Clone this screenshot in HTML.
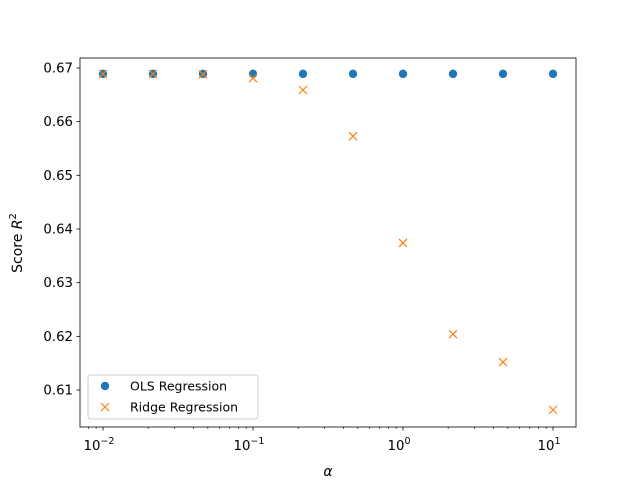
<!DOCTYPE html>
<html><head><meta charset="utf-8"><style>body{margin:0;background:#fff}svg{display:block;font-family:"DejaVu Sans","Liberation Sans",sans-serif}</style></head>
<body>
<svg id="c" width="640" height="480"></svg>
<script>
const alphas=[0.01,0.02154,0.04642,0.1,0.2154,0.4642,1,2.154,4.642,10];
const olsScores=[0.6689,0.6689,0.6689,0.6689,0.6689,0.6689,0.6689,0.6689,0.6689,0.6689];
const ridgeScores=[0.6689,0.6689,0.6688,0.6681,0.6659,0.6573,0.6374,0.6204,0.6152,0.6063];
const yTicks=[0.61,0.62,0.63,0.64,0.65,0.66,0.67];
const xTickExps=[-2,-1,0,1];
const L=80,R=576,T=58,B=427,xmin=-2.1533,xmax=1.1533,ymin=0.60311,ymax=0.67186;
const X=v=>L+(Math.log10(v)-xmin)/(xmax-xmin)*(R-L);
const Y=v=>B-(v-ymin)/(ymax-ymin)*(B-T);
const s=document.getElementById('c');const NS='http://www.w3.org/2000/svg';
function mk(t,a,txt){const e=document.createElementNS(NS,t);for(const k in a)e.setAttribute(k,a[k]);if(txt!=null)e.textContent=txt;s.appendChild(e);return e;}
let e=mk('rect',{x:L,y:T,width:R-L,height:B-T,fill:'none',stroke:'#000','stroke-width':0.8});


yTicks.forEach(v=>{const y=Y(v);
 let t=mk('line',{x1:L-3.5,x2:L,y1:y,y2:y,stroke:'#000','stroke-width':0.8});
 
 
 let l=mk('text',{x:L-7,y:y+4.5,'text-anchor':'end','font-size':13.3},v.toFixed(2));
 
 });
xTickExps.forEach(p=>{const x=X(Math.pow(10,p));
 let t=mk('line',{x1:x,x2:x,y1:B,y2:B+3.5,stroke:'#000','stroke-width':0.8});
 
 
 let l=mk('text',{x:x-4,y:B+23,'text-anchor':'middle','font-size':13.3},'10');
 
 
 const sp=mk('tspan',{dy:-6,'font-size':9.5},String(p).replace('-','\u2212'));l.appendChild(sp);
 for(let k=2;k<10&&p<1;k++){const xm=X(k*Math.pow(10,p));let m=mk('line',{x1:xm,x2:xm,y1:B,y2:B+2,stroke:'#000','stroke-width':0.6});
 
 }
});
for(let k=8;k<10;k++){const xm=X(k*0.001);if(xm>L){let m=mk('line',{x1:xm,x2:xm,y1:B,y2:B+2,stroke:'#000','stroke-width':0.6});}}
e=mk('text',{x:328,y:476,'text-anchor':'middle','font-size':14,'font-style':'italic'},'α');


e=mk('text',{x:0,y:0,transform:'translate(22,243) rotate(-90)','text-anchor':'middle','font-size':14},'Score ');


e.appendChild(Object.assign(document.createElementNS(NS,'tspan'),{textContent:'R'}));e.lastChild.setAttribute('font-style','italic');
const sup=document.createElementNS(NS,'tspan');sup.setAttribute('dy',-6);sup.setAttribute('font-size',10);sup.textContent='2';e.appendChild(sup);
alphas.forEach((a,i)=>{let c=mk('circle',{cx:X(a),cy:Y(olsScores[i]),r:4.2,fill:'#1f77b4'});
 
 });
alphas.forEach((a,i)=>{const x=X(a),y=Y(ridgeScores[i]);
 let p=mk('path',{d:`M${x-4},${y-4}L${x+4},${y+4}M${x-4},${y+4}L${x+4},${y-4}`,stroke:'#ff7f0e','stroke-width':1.2});
 
 });
const g=mk('g',{});
e=mk('rect',{x:88,y:375,width:170,height:44,rx:3,fill:'#fff','fill-opacity':0.8,stroke:'#ccc'});


e=mk('circle',{cx:105,cy:386,r:4.2,fill:'#1f77b4'});


e=mk('text',{x:130,y:390.5,'font-size':12.5},'OLS Regression');


e=mk('path',{d:'M101,403L109,411M101,411L109,403',stroke:'#ff7f0e','stroke-width':1.2});


e=mk('text',{x:130,y:411.5,'font-size':12.5},'Ridge Regression');


</script>
</body></html>
